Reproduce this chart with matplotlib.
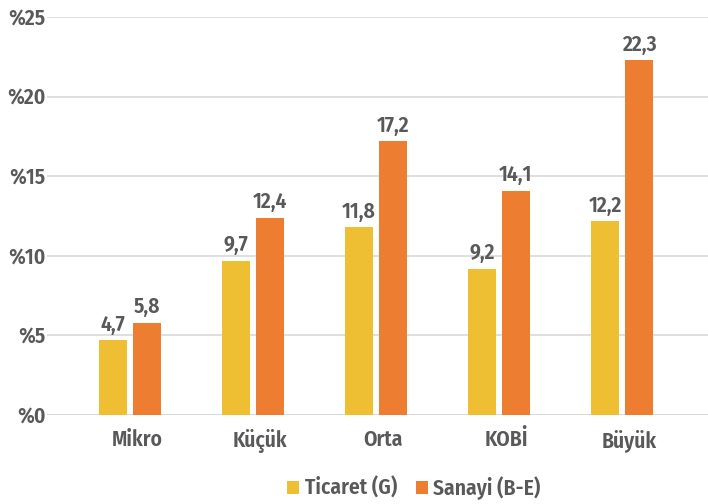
import matplotlib
matplotlib.use("Agg")
import matplotlib.pyplot as plt
import numpy as np
from matplotlib import font_manager as fm

names = {f.name for f in fm.fontManager.ttflist}
FONT = "DejaVu Sans"
for cand in ["Fira Sans Condensed", "PT Sans Narrow", "Roboto Condensed",
             "Open Sans Condensed", "Asap Condensed", "Barlow Condensed"]:
    if cand in names:
        FONT = cand
        break
plt.rcParams['font.family'] = [FONT, 'DejaVu Sans']

categories = ["Mikro", "Küçük", "Orta", "KOBİ", "Büyük"]
ticaret = [4.7, 9.7, 11.8, 9.2, 12.2]
sanayi = [5.8, 12.4, 17.2, 14.1, 22.3]
series_names = ["Ticaret (G)", "Sanayi (B-E)"]
yticks = [0, 5, 10, 15, 20, 25]

TXT = "#595959"
C1 = "#EFBF33"
C2 = "#ED7D31"
FS = 15.5
WT = "semibold"

fig = plt.figure(figsize=(7.08, 5.04), dpi=100)
W, H = 708, 504
ax = fig.add_axes([47/W, 1-415/H, (708-47)/W, (415-17)/H])

x = np.arange(len(categories))
bw = 0.228
off = 0.138
b1 = ax.bar(x - off, ticaret, bw, color=C1, label=series_names[0], zorder=3)
b2 = ax.bar(x + off, sanayi, bw, color=C2, label=series_names[1], zorder=3)

for bars, vals in ((b1, ticaret), (b2, sanayi)):
    for r, v in zip(bars, vals):
        ax.text(r.get_x() + r.get_width()/2, v + 0.3, f"{v:.1f}".replace(".", ","),
                ha="center", va="bottom", fontsize=FS, fontweight=WT, color=TXT)

ax.set_xlim(-0.675, 4.70)
ax.set_ylim(0, 25)
ax.set_yticks(yticks)
ax.set_yticklabels([f"%{t}" for t in yticks])
ax.set_xticks(x + 0.06)
ax.set_xticklabels(categories)
ax.grid(axis="y", color="#d9d9d9", linewidth=1.2, zorder=0)
for s in ax.spines.values():
    s.set_visible(False)
ax.tick_params(axis="both", length=0, labelsize=FS, labelcolor=TXT, pad=1)
ax.tick_params(axis="x", pad=10)
for lab in ax.get_xticklabels() + ax.get_yticklabels():
    lab.set_fontweight(WT)
ax.axhline(0, color="#d9d9d9", linewidth=1.5, zorder=2)

leg = fig.legend(handles=[b1, b2], labels=series_names, loc="center",
                 bbox_to_anchor=(414/W, 1-488/H), ncol=2, frameon=False,
                 handlelength=0.55, handleheight=0.55, handletextpad=0.25,
                 columnspacing=0.9, prop={"size": FS, "weight": WT})
for t in leg.get_texts():
    t.set_color(TXT)

fig.savefig("out.png", dpi=100)
